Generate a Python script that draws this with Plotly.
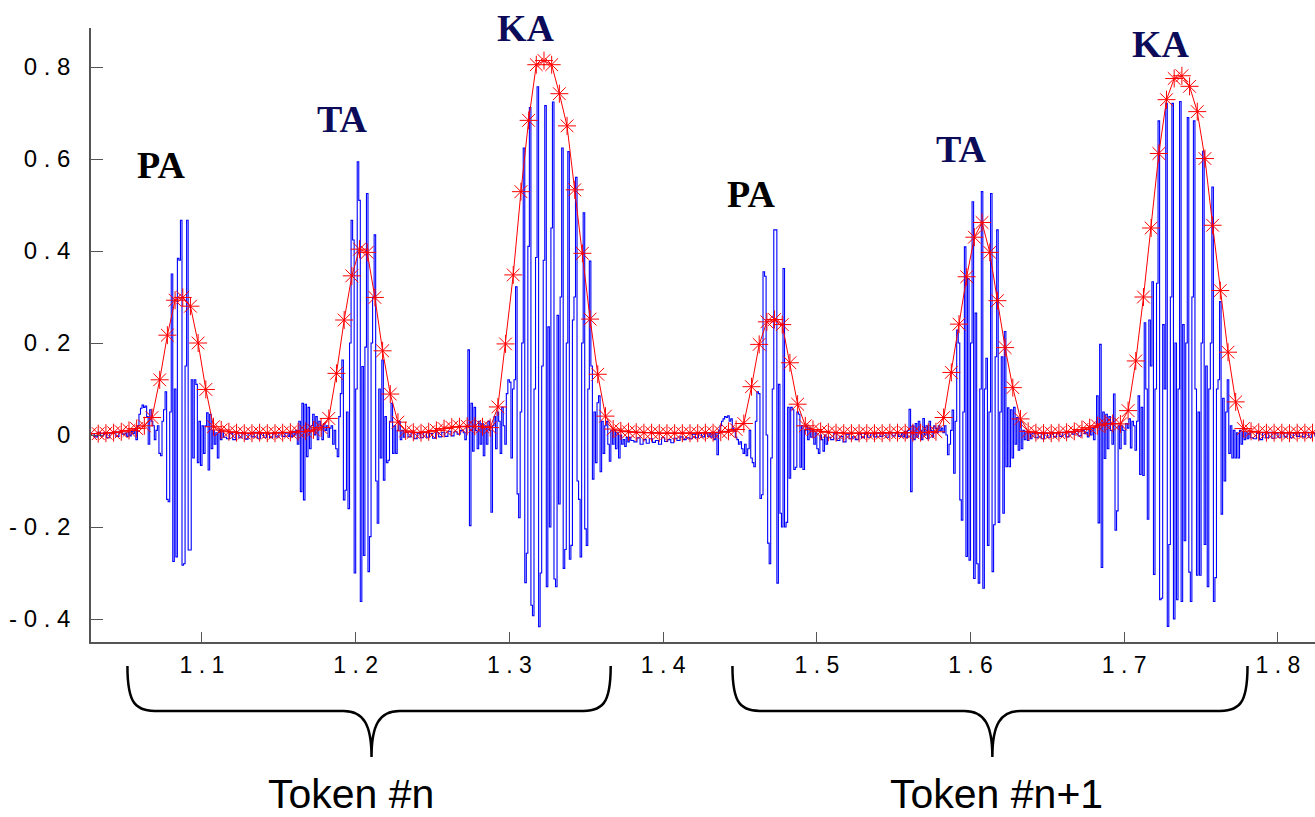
import numpy as np
import plotly.graph_objects as go

# ---------------- data ----------------
# energy envelope (red, '*' markers), one value every 5 ms
env_t0 = 1.0275
env_dt = 0.005
envelope = [
    0.003, 0.003, 0.004, 0.005, 0.007,
    0.010, 0.014, 0.020, 0.038, 0.120,
    0.217, 0.293, 0.299, 0.280, 0.200,
    0.099, 0.018, 0.011, 0.007, 0.005,
    0.004, 0.004, 0.005, 0.004, 0.004,
    0.005, 0.006, 0.007, 0.008, 0.011,
    0.016, 0.036, 0.134, 0.250, 0.346,
    0.404, 0.397, 0.299, 0.183, 0.089,
    0.028, 0.009, 0.006, 0.005, 0.007,
    0.010, 0.014, 0.017, 0.018, 0.019,
    0.019, 0.018, 0.016, 0.061, 0.198,
    0.348, 0.529, 0.684, 0.805, 0.814,
    0.805, 0.742, 0.672, 0.533, 0.395,
    0.252, 0.132, 0.041, 0.013, 0.009,
    0.007, 0.006, 0.005, 0.005, 0.004,
    0.004, 0.004, 0.004, 0.004, 0.004,
    0.005, 0.005, 0.006, 0.008, 0.012,
    0.025, 0.105, 0.197, 0.246, 0.251,
    0.240, 0.157, 0.067, 0.020, 0.012,
    0.008, 0.006, 0.005, 0.004, 0.004,
    0.004, 0.004, 0.004, 0.004, 0.005,
    0.005, 0.005, 0.005, 0.005, 0.006,
    0.007, 0.038, 0.136, 0.241, 0.344,
    0.430, 0.462, 0.397, 0.292, 0.190,
    0.103, 0.035, 0.008, 0.005, 0.004,
    0.004, 0.005, 0.006, 0.008, 0.012,
    0.016, 0.020, 0.024, 0.025, 0.024,
    0.053, 0.161, 0.300, 0.450, 0.612,
    0.729, 0.775, 0.781, 0.758, 0.703,
    0.601, 0.456, 0.314, 0.180, 0.072,
    0.014, 0.008, 0.006, 0.005, 0.005,
    0.005, 0.004, 0.005, 0.005, 0.005,
]

# speech waveform (blue), pieces: silence at 2 ms, syllables at 1 ms
sil_0_t0, sil_0 = 1.028, [0.003, -0.004, 0.006, -0.002, 0.005, -0.006, 0.004, 0.007, -0.003, 0.008, 0.002]
pa_1_t0, pa_1 = 1.050, [
    0.004, -0.003, 0.006, -0.002, 0.008, 0.003, 0.012, -0.010, 0.020, 0.045,
    0.058, 0.065, 0.060, 0.063, 0.040, -0.020, 0.055, 0.030, 0.020, -0.010,
    0.010, 0.020, -0.040, -0.045, 0.030, 0.055, 0.094, -0.140, -0.145, 0.050,
    0.350, -0.275, 0.100, -0.265, 0.384, 0.380, 0.467, -0.283, -0.280, 0.150,
    0.467, -0.250, -0.250, 0.120, -0.050, 0.120, 0.110, -0.060, 0.030, -0.066,
    0.020, -0.040, 0.020, 0.048, -0.076, 0.045, -0.030, 0.010, -0.020, 0.005,
    -0.050, 0.010, -0.010, 0.008, -0.005]
sil_1_t0, sil_1 = 1.116, [-0.008, 0.004, -0.010, 0.006, -0.006, 0.005, -0.009, 0.003, -0.004, 0.006,
                          -0.007, 0.004, -0.005, 0.003, -0.006, 0.005, -0.004, 0.006, -0.003, 0.004]
ta_1_t0, ta_1 = 1.155, [
    0.005, -0.003, 0.006, -0.004, 0.008, 0.000, 0.010, -0.020, 0.030, -0.123,
    0.069, -0.141, 0.067, -0.047, 0.060, -0.030, 0.020, 0.045, 0.000, 0.040,
    -0.010, 0.030, 0.020, -0.010, 0.025, 0.010, 0.020, -0.005, 0.015, 0.020,
    -0.020, 0.010, -0.030, -0.047, 0.040, 0.090, 0.163, -0.141, -0.120, 0.050,
    -0.160, 0.200, 0.467, 0.424, -0.300, 0.100, 0.594, 0.510, -0.362, 0.149,
    -0.262, 0.191, 0.525, -0.297, -0.221, 0.200, 0.300, 0.435, -0.100, -0.192,
    0.100, -0.050, 0.163, -0.098, 0.040, -0.060, -0.055, 0.030, 0.069, -0.040,
    0.020, -0.040, 0.010, 0.030, -0.010, 0.010, -0.005, 0.006]
sil_2_t0, sil_2 = 1.234, [-0.004, 0.005, -0.008, 0.004, -0.006, 0.006, -0.005, 0.003, -0.007, 0.005,
                          -0.004, 0.006, -0.003, 0.008, -0.002, 0.007, 0.002, 0.010]
ka_1_t0, ka_1 = 1.270, [
    0.005, -0.010, 0.020, 0.185, -0.197, 0.069, -0.035, 0.060, 0.010, -0.030,
    0.030, -0.020, 0.025, -0.045, 0.020, -0.020, 0.030, 0.010, -0.168, 0.020,
    0.040, -0.030, 0.050, 0.030, -0.040, 0.060, 0.020, -0.020, 0.090, 0.120,
    0.115, -0.050, 0.100, 0.120, 0.322, -0.128, -0.180, 0.050, 0.200, 0.624,
    -0.321, -0.257, 0.410, 0.712, -0.370, -0.393, 0.100, 0.386, 0.757, -0.417,
    -0.300, 0.150, 0.380, 0.716, -0.330, 0.235, -0.200, 0.450, 0.724, -0.313,
    -0.330, 0.260, -0.150, 0.300, 0.624, -0.290, -0.249, 0.200, 0.616, -0.270,
    -0.240, 0.250, 0.300, 0.560, -0.100, -0.140, -0.265, 0.200, 0.483, -0.204,
    -0.240, 0.100, 0.378, 0.150, -0.096, 0.050, -0.060, 0.070, 0.085, -0.080,
    0.030, -0.040, 0.020, 0.030, -0.020, -0.057, 0.010, -0.020, 0.010, -0.030,
    0.005, -0.050, 0.000, -0.020, -0.010, -0.025, -0.005, -0.015, -0.005, -0.012]
sil_3_t0, sil_3 = 1.381, [-0.015, -0.006, -0.020, -0.010, -0.018, -0.008, -0.016, -0.012, -0.020, -0.006,
                          -0.014, -0.010, -0.017, -0.007, -0.012, -0.004, -0.010, -0.006, -0.008, 0.002,
                          -0.006, 0.003, -0.004, 0.004, -0.003]
pa_2_t0, pa_2 = 1.430, [
    0.004, -0.005, 0.006, -0.010, 0.005, -0.043, 0.010, 0.020, 0.030, 0.035,
    0.040, 0.038, 0.042, 0.030, 0.035, 0.015, 0.010, -0.005, -0.010, -0.020,
    -0.015, -0.030, -0.040, -0.020, -0.045, -0.030, 0.010, -0.050, -0.060, -0.069,
    0.030, 0.094, 0.090, -0.138, -0.130, 0.355, 0.345, 0.000, -0.235, -0.280,
    -0.050, 0.100, 0.446, 0.446, -0.322, 0.110, -0.170, -0.200, 0.362, -0.200,
    -0.190, 0.060, -0.094, 0.060, 0.055, -0.075, -0.070, 0.050, 0.045, -0.070,
    0.020, -0.075, 0.010, 0.020, -0.010, 0.015, -0.005, 0.010, -0.020, 0.005,
    -0.030, -0.040, 0.000, -0.010, -0.035, 0.000, -0.020, -0.005]
sil_4_t0, sil_4 = 1.509, [-0.010, 0.004, -0.012, -0.003, -0.015, 0.002, -0.008, -0.004, -0.010, 0.003,
                          -0.006, 0.004, -0.005, 0.003, -0.004, 0.005, -0.003, 0.004, -0.005, 0.006,
                          -0.002, 0.005, -0.003]
ta_2_t0, ta_2 = 1.555, [
    0.004, -0.004, 0.008, -0.006, 0.010, 0.056, -0.123, 0.020, -0.010, 0.025,
    -0.005, 0.030, 0.010, -0.010, 0.036, 0.000, 0.020, -0.008, 0.030, 0.010,
    -0.005, 0.020, 0.015, 0.005, 0.020, 0.010, 0.015, 0.005, 0.020, 0.000,
    -0.043, -0.020, 0.010, 0.054, -0.083, 0.030, 0.228, 0.200, -0.141, -0.185,
    0.050, 0.409, -0.264, 0.340, -0.272, 0.200, 0.507, -0.312, 0.265, -0.280,
    -0.322, 0.100, 0.529, -0.333, 0.100, 0.167, -0.240, 0.050, 0.525, -0.297,
    -0.195, 0.170, 0.446, -0.190, 0.050, 0.170, -0.170, 0.225, -0.069, 0.059,
    -0.069, 0.055, -0.050, 0.060, -0.020, 0.038, -0.033, 0.030, -0.030, 0.010,
    -0.010, 0.008, -0.012, 0.005, -0.008, 0.004]
sil_5_t0, sil_5 = 1.642, [-0.006, 0.005, -0.008, 0.004, -0.005, 0.006, -0.004, 0.005, -0.003, 0.006,
                          -0.004, 0.007, 0.002, 0.008, -0.002, 0.010, 0.003]
ka_2_t0, ka_2 = 1.675, [
    0.006, -0.004, 0.010, 0.000, 0.015, -0.010, 0.020, 0.085, -0.191, 0.197,
    -0.288, 0.050, -0.051, 0.045, -0.030, 0.040, 0.010, -0.020, 0.089, -0.207,
    -0.165, 0.020, -0.030, 0.020, 0.010, -0.020, 0.025, 0.015, 0.035, -0.028,
    0.030, 0.020, -0.033, 0.030, 0.085, -0.086, 0.060, -0.088, 0.244, 0.100,
    -0.183, 0.250, 0.150, 0.333, -0.303, 0.100, 0.330, 0.683, -0.358, -0.355,
    0.240, 0.100, 0.721, -0.416, -0.238, 0.300, 0.721, -0.400, 0.200, -0.358,
    0.100, 0.725, -0.362, 0.240, -0.230, 0.200, 0.690, -0.298, -0.362, 0.300,
    0.683, 0.100, -0.305, 0.050, -0.305, 0.200, 0.617, -0.238, 0.150, -0.330,
    0.100, 0.200, 0.539, -0.362, -0.310, 0.100, 0.120, 0.290, -0.172, 0.080,
    -0.100, 0.050, 0.120, -0.040, 0.020, -0.050, 0.010, -0.050, 0.005, -0.050,
    0.010, -0.020, 0.008, -0.010, 0.005, -0.008, 0.004, -0.006]
sil_6_t0, sil_6 = 1.784, [-0.008, 0.004, -0.010, 0.005, -0.006, 0.006, -0.007, 0.004, -0.005, 0.006,
                          -0.004, 0.005, -0.006, 0.004, -0.003, 0.005, -0.004, 0.006, -0.005, 0.004,
                          -0.003]

wave_pieces = [
    (sil_0_t0, 0.002, sil_0), (pa_1_t0, 0.001, pa_1), (sil_1_t0, 0.002, sil_1),
    (ta_1_t0, 0.001, ta_1), (sil_2_t0, 0.002, sil_2), (ka_1_t0, 0.001, ka_1),
    (sil_3_t0, 0.002, sil_3), (pa_2_t0, 0.001, pa_2), (sil_4_t0, 0.002, sil_4),
    (ta_2_t0, 0.001, ta_2), (sil_5_t0, 0.002, sil_5), (ka_2_t0, 0.001, ka_2),
    (sil_6_t0, 0.002, sil_6),
]

syllables = ["PA", "TA", "KA", "PA", "TA", "KA"]
syllable_t = [1.0733, 1.1911, 1.3111, 1.4569, 1.5941, 1.7240]
syllable_v = [0.587, 0.687, 0.884, 0.524, 0.622, 0.851]
syllable_color = ["#000000", "#0b0b5a", "#0b0b5a", "#000000", "#0b0b5a", "#0b0b5a"]

tokens = ["Token #n", "Token #n+1"]
token_t = [1.1969, 1.6166]
token_v = -0.780
brace_spans = [(1.0515, 1.2103, 1.3659), (1.4451, 1.6142, 1.7802)]

x_ticks = [1.1, 1.2, 1.3, 1.4, 1.5, 1.6, 1.7, 1.8]
x_ticktext = ["1 . 1", "1 . 2", "1 . 3", "1 . 4", "1 . 5", "1 . 6", "1 . 7", "1 . 8"]
y_ticks = [-0.4, -0.2, 0.0, 0.2, 0.4, 0.6, 0.8]
y_ticktext = ["- 0 . 4", "- 0 . 2", "0", "0 . 2", "0 . 4", "0 . 6", "0 . 8"]

x_range = [1.0278, 1.8241]
y_range = [-0.45, 0.8848]

# ---------------- build ----------------
wave_t = np.concatenate([t0 + dt * np.arange(len(v)) for t0, dt, v in wave_pieces])
wave_v = np.concatenate([np.array(v, dtype=float) for _, _, v in wave_pieces])
env_t = env_t0 + env_dt * np.arange(len(envelope))

fig = go.Figure()
fig.add_trace(go.Scatter(x=wave_t, y=wave_v, mode="lines", line=dict(color="#0000ff", width=1.1, shape="hv"),
                         hoverinfo="skip", showlegend=False))
fig.add_trace(go.Scatter(x=env_t, y=envelope, mode="lines+markers",
                         line=dict(color="#ff0000", width=1),
                         marker=dict(symbol="asterisk-open", size=15, color="#ff0000",
                                     line=dict(color="#ff0000", width=1)),
                         showlegend=False))


def px(t):
    return (t - x_range[0]) / (x_range[1] - x_range[0])


def py(v):
    return (v - y_range[0]) / (y_range[1] - y_range[0])


sans = "Liberation Sans, Arial, sans-serif"
annotations = []
for s, t, v, c in zip(syllables, syllable_t, syllable_v, syllable_color):
    annotations.append(dict(text="<b>" + s + "</b>", x=px(t), y=py(v), xref="paper", yref="paper",
                            xanchor="center", yanchor="middle", showarrow=False,
                            font=dict(family="Liberation Serif, Times New Roman, serif", size=38, color=c)))
for s, t in zip(tokens, token_t):
    annotations.append(dict(text=s, x=px(t), y=py(token_v), xref="paper", yref="paper",
                            xanchor="center", yanchor="middle", showarrow=False,
                            font=dict(family=sans, size=41, color="#000000")))

shapes = []
v_top, v_mid, v_tip, v_c1, v_c2 = -0.502, -0.600, -0.700, -0.587, -0.630
for t0, tip, t1 in brace_spans:
    pts = [
        ("M", [(t0, v_top)]),
        ("C", [(t0, v_c1), (t0 + 0.0052, v_mid), (t0 + 0.0208, v_mid)]),
        ("L", [(tip - 0.0182, v_mid)]),
        ("C", [(tip - 0.0052, v_mid), (tip, v_c2), (tip, v_tip)]),
        ("C", [(tip, v_c2), (tip + 0.0052, v_mid), (tip + 0.0182, v_mid)]),
        ("L", [(t1 - 0.0208, v_mid)]),
        ("C", [(t1 - 0.0052, v_mid), (t1, v_c1), (t1, v_top)]),
    ]
    path = " ".join(cmd + " " + " ".join(f"{px(a):.5f},{py(b):.5f}" for a, b in p) for cmd, p in pts)
    shapes.append(dict(type="path", path=path, xref="paper", yref="paper",
                       line=dict(color="#000000", width=2.5)))

fig.update_layout(
    width=1315, height=817,
    margin=dict(l=91, r=0, t=28, b=175),
    paper_bgcolor="white", plot_bgcolor="white",
    annotations=annotations, shapes=shapes,
    xaxis=dict(range=x_range, tickvals=x_ticks, ticktext=x_ticktext, ticks="inside", ticklen=10,
               tickcolor="#555555", showline=True, linecolor="#555555", linewidth=1.5,
               showgrid=False, zeroline=False, ticklabelstandoff=2,
               tickfont=dict(family=sans, size=23, color="#000000")),
    yaxis=dict(range=y_range, tickvals=y_ticks, ticktext=y_ticktext, ticks="inside", ticklen=12,
               tickcolor="#555555", showline=True, linecolor="#555555", linewidth=1.5,
               showgrid=False, zeroline=False, ticklabelstandoff=14,
               tickfont=dict(family=sans, size=24, color="#000000")),
)

fig.write_html("out.html")
